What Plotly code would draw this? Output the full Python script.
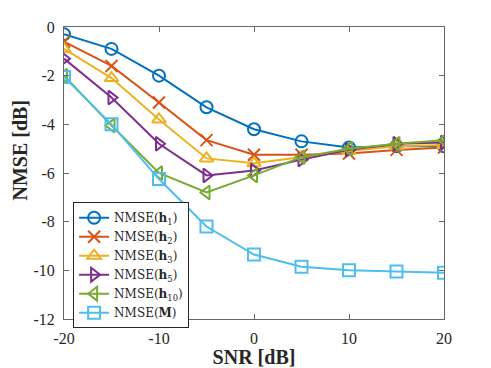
import plotly.graph_objects as go

snr = [-20, -15, -10, -5, 0, 5, 10, 15, 20]

nmse_h1 = [-0.3, -0.9, -2.0, -3.3, -4.2, -4.7, -4.95, -4.9, -4.9]
nmse_h2 = [-0.6, -1.6, -3.1, -4.65, -5.25, -5.25, -5.2, -5.05, -4.95]
nmse_h3 = [-0.9, -2.1, -3.8, -5.4, -5.6, -5.35, -5.1, -4.9, -4.85]
nmse_h5 = [-1.3, -2.9, -4.8, -6.1, -5.9, -5.45, -5.05, -4.8, -4.75]
nmse_h10 = [-2.0, -4.05, -6.0, -6.8, -6.1, -5.35, -5.0, -4.8, -4.65]
nmse_m = [-2.05, -4.0, -6.25, -8.2, -9.35, -9.85, -10.0, -10.05, -10.1]

x_ticks = [-20, -10, 0, 10, 20]
y_ticks = [0, -2, -4, -6, -8, -10, -12]

series = [
    ("NMSE(<b>h</b><sub>1</sub>)", nmse_h1, "#0072BD", "circle-open"),
    ("NMSE(<b>h</b><sub>2</sub>)", nmse_h2, "#D95319", "x-thin-open"),
    ("NMSE(<b>h</b><sub>3</sub>)", nmse_h3, "#EDB120", "triangle-up-open"),
    ("NMSE(<b>h</b><sub>5</sub>)", nmse_h5, "#7E2F8E", "triangle-right-open"),
    ("NMSE(<b>h</b><sub>10</sub>)", nmse_h10, "#77AC30", "triangle-left-open"),
    ("NMSE(<b>M</b>)", nmse_m, "#4DBEEE", "square-open"),
]

fig = go.Figure()
for name, vals, color, symbol in series:
    fig.add_trace(go.Scatter(
        x=snr, y=vals, name=name, mode="lines+markers",
        line=dict(color=color, width=2),
        marker=dict(symbol=symbol, size=12, color=color,
                    line=dict(color=color, width=2)),
    ))

font_family = "Liberation Serif, DejaVu Serif, serif"
axis_common = dict(
    showgrid=False, zeroline=False, showline=True, linecolor="#666666",
    linewidth=1, mirror="ticks", ticks="inside", ticklen=5,
    tickcolor="#666666", tickfont=dict(size=16, color="#262626"),
    automargin=False, ticklabelstandoff=5,
)

# page body adds an 8px offset, so the figure is sized/margined to compensate
fig.update_layout(
    width=483, height=360,
    margin=dict(l=56, r=47, t=19, b=49),
    paper_bgcolor="white", plot_bgcolor="white",
    font=dict(family=font_family, color="#262626"),
    showlegend=True,
    legend=dict(
        x=0.024, y=0.40, xanchor="left", yanchor="top",
        bgcolor="white", bordercolor="#262626", borderwidth=1,
        font=dict(size=12, family="DejaVu Serif, serif"), tracegroupgap=0,
        itemwidth=30,
    ),
    xaxis=dict(
        range=[-20, 20], tickvals=x_ticks,
        ticktext=[str(v) for v in x_ticks],
        title=dict(text="<b>SNR [dB]</b>", font=dict(size=20)),
        **axis_common,
    ),
    yaxis=dict(
        range=[-12, 0], tickvals=y_ticks,
        ticktext=[str(v) for v in y_ticks],
        **axis_common,
    ),
    annotations=[dict(
        text="<b>NMSE [dB]</b>", textangle=-90, showarrow=False,
        xref="paper", yref="paper", x=-0.116, y=0.58,
        xanchor="center", yanchor="middle", font=dict(size=20),
    )],
)

fig.write_html("out.html")
